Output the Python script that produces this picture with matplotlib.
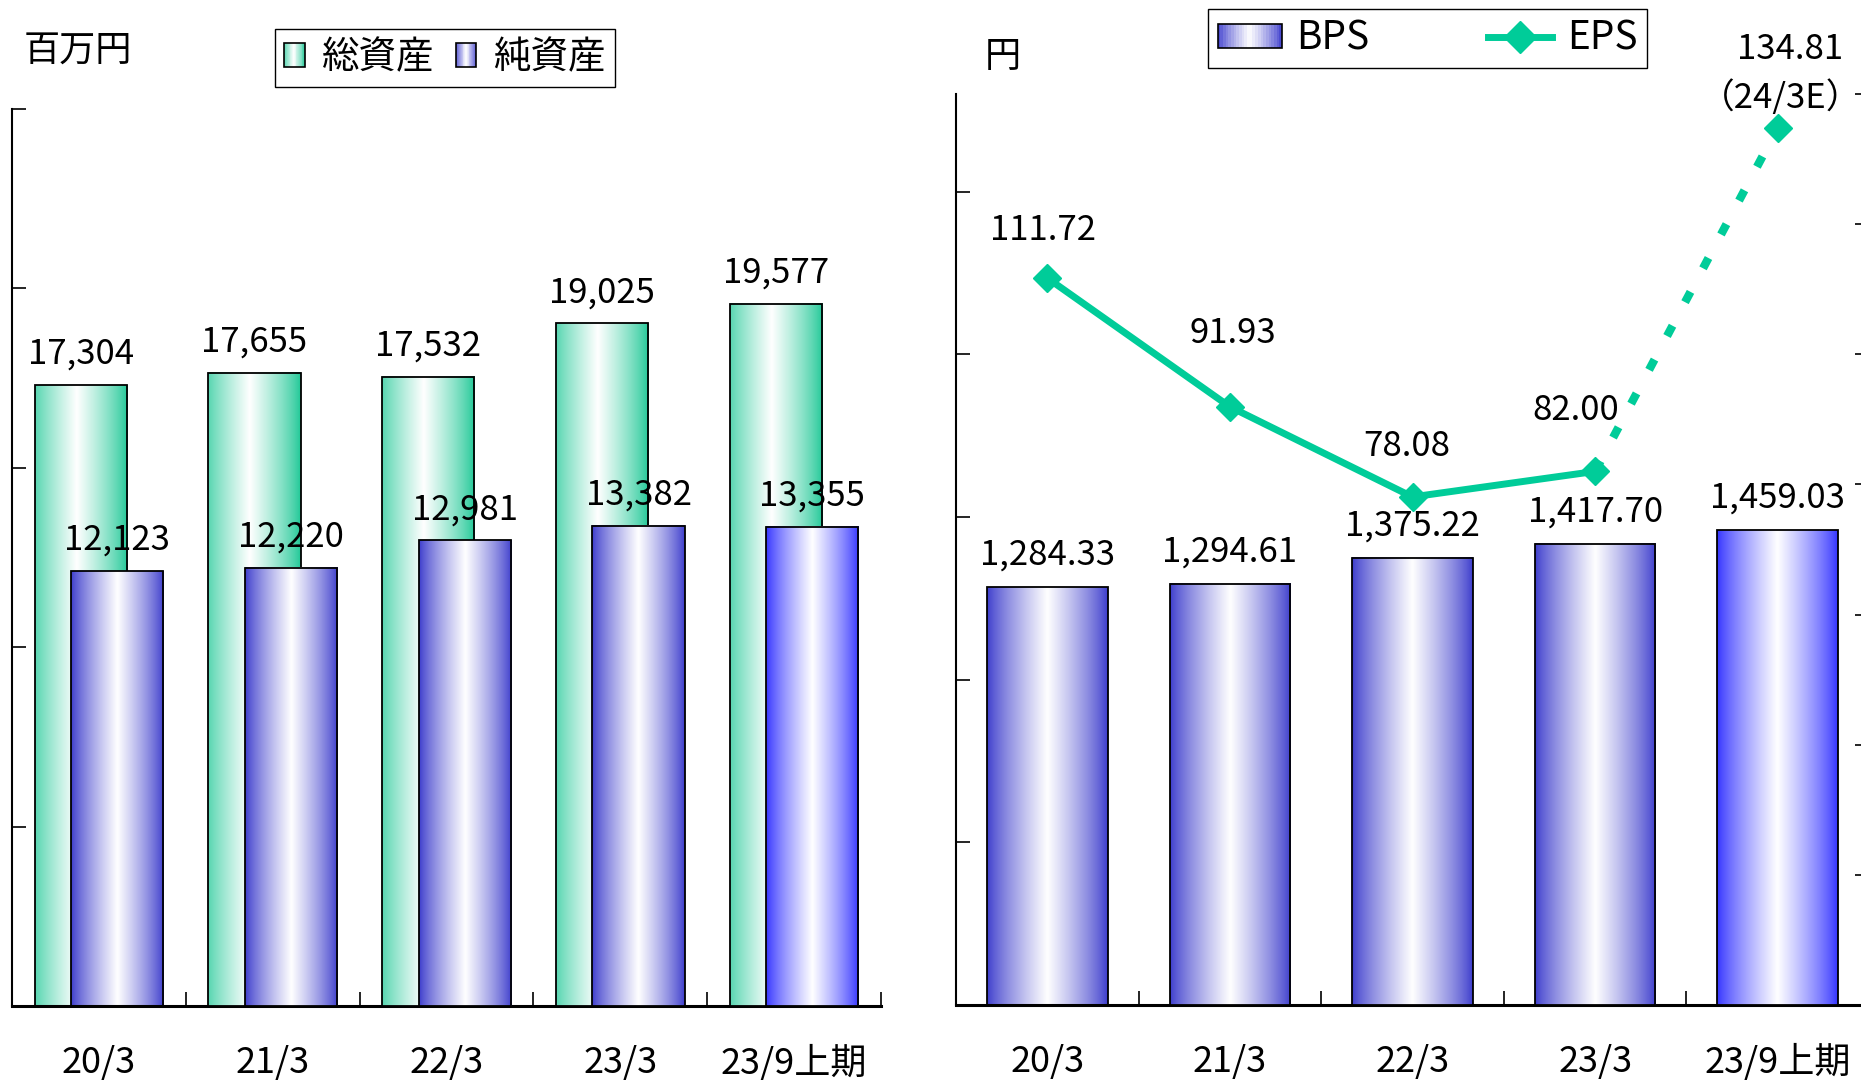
import numpy as np
import matplotlib
matplotlib.use('Agg')
import matplotlib.pyplot as plt
from matplotlib.patches import Rectangle
from matplotlib.lines import Line2D
from matplotlib.legend_handler import HandlerBase
from matplotlib.colors import to_rgb

plt.rcParams['font.family'] = ['Noto Sans CJK JP', 'DejaVu Sans']

# データ
categories = ['20/3', '21/3', '22/3', '23/3', '23/9上期']
total_assets = [17304, 17655, 17532, 19025, 19577]
net_assets = [12123, 12220, 12981, 13382, 13355]
bps = [1284.33, 1294.61, 1375.22, 1417.70, 1459.03]
eps = [111.72, 91.93, 78.08, 82.00]
eps_forecast = 134.81
eps_forecast_label = '（24/3E）'

GREEN = '#1FC896'
BLUE = '#3C3CCC'
BLUE_LAST = '#3333FF'
EPS_COLOR = '#00CC99'
FS = 25


def shade(col, t, peak=0.5):
    c = np.array(to_rgb(col))
    w = np.clip(1 - np.abs(t - peak) / max(peak, 1 - peak), 0, 1) ** 0.8
    return c * (1 - w[..., None]) + w[..., None]


def grad_bar(ax, x, h, width, col, z, peak=0.5):
    t = np.linspace(0, 1, 128)
    img = shade(col, t, peak)[None, :, :]
    ax.imshow(img, extent=(x - width / 2, x + width / 2, 0, h), aspect='auto',
              interpolation='bilinear', zorder=z)
    ax.bar(x, h, width, fill=False, edgecolor='black', linewidth=1.3, zorder=z + 0.1)


class GradHandler(HandlerBase):
    def __init__(self, col, peak=0.5):
        super().__init__()
        self.col = col
        self.peak = peak

    def create_artists(self, legend, orig_handle, xdescent, ydescent, width, height, fontsize, trans):
        n = 24
        arts = []
        for i in range(n):
            t = np.array([(i + 0.5) / n])
            c = shade(self.col, t, self.peak)[0]
            arts.append(Rectangle((-xdescent + width * i / n, -ydescent), width / n * 1.05, height,
                                  facecolor=c, edgecolor='none', transform=trans))
        arts.append(Rectangle((-xdescent, -ydescent), width, height, fill=False,
                              edgecolor='black', linewidth=1.2, transform=trans))
        return arts


def style_axes(ax):
    for s in ['top', 'right']:
        ax.spines[s].set_visible(False)
    ax.spines['left'].set_linewidth(1.5)
    ax.spines['bottom'].set_linewidth(2.2)
    ax.set_xlim(-0.5, len(categories) - 0.5)
    ax.set_xticks(np.arange(len(categories)))
    ax.set_xticklabels(categories, fontsize=26)
    ax.tick_params(axis='x', which='major', length=0, pad=28)
    ax.set_xticks(np.arange(len(categories)) + 0.5, minor=True)
    ax.tick_params(axis='x', which='minor', direction='in', length=10, width=1.2)
    ax.tick_params(axis='y', direction='in', length=10, width=1.2, labelleft=False)


fig = plt.figure(figsize=(18.61, 10.80), dpi=100)
W, H = 1861, 1080

# 左：総資産・純資産
ax1 = fig.add_axes([12 / W, (H - 1006) / H, 869 / W, 897 / H])
x = np.arange(len(categories))
bw = 0.53
off = 0.105
for i in range(len(categories)):
    grad_bar(ax1, x[i] - off, total_assets[i], bw, GREEN, 2 + i, peak=0.45)
    bcol = BLUE_LAST if i == len(categories) - 1 else BLUE
    grad_bar(ax1, x[i] + off, net_assets[i], bw, bcol, 2.5 + i)
    ax1.annotate(f'{total_assets[i]:,}', (x[i] - off, total_assets[i]), xytext=(0, 22),
                 textcoords='offset points', ha='center', va='center', fontsize=FS, zorder=20)
    ax1.annotate(f'{net_assets[i]:,}', (x[i] + off, net_assets[i]), xytext=(0, 22),
                 textcoords='offset points', ha='center', va='center', fontsize=FS, zorder=20)
style_axes(ax1)
ax1.set_ylim(0, 25000)
ax1.set_yticks(np.arange(0, 25001, 5000))

fig.text(24 / W, 1 - 51 / H, '百万円', fontsize=26, va='center', ha='left')
h_total = Rectangle((0, 0), 1, 1)
h_net = Rectangle((0, 0), 1, 1)
fig.legend([h_total, h_net], ['総資産', '純資産'], loc='upper left',
           bbox_to_anchor=(275 / W, 1 - 83 / H, 340 / W, 54 / H), mode='expand',
           ncol=2, fontsize=27, frameon=True,
           fancybox=False, edgecolor='black', framealpha=1, borderpad=0.25,
           handlelength=0.55, handleheight=0.6, handletextpad=0.45, columnspacing=0.8,
           borderaxespad=0,
           handler_map={h_total: GradHandler(GREEN, 0.45), h_net: GradHandler(BLUE)})

# 右：BPS・EPS
ax2 = fig.add_axes([956 / W, (H - 1005) / H, 913 / W, 911 / H])
bw2 = 0.66
for i in range(len(categories)):
    bcol = BLUE_LAST if i == len(categories) - 1 else BLUE
    grad_bar(ax2, x[i], bps[i], bw2, bcol, 2 + i)
    ax2.annotate(f'{bps[i]:,.2f}', (x[i], bps[i]), xytext=(0, 23),
                 textcoords='offset points', ha='center', va='center', fontsize=FS, zorder=20)
style_axes(ax2)
ax2.set_ylim(0, 2800)
ax2.set_yticks(np.arange(0, 2501, 500))

ax3 = ax2.twinx()
ax3.set_ylim(0, 140)
ax3.set_yticks(np.arange(0, 141, 20))
ax3.tick_params(axis='y', direction='in', length=10, width=1.2, labelright=False)
for s in ['top', 'left', 'bottom']:
    ax3.spines[s].set_visible(False)
ax3.spines['right'].set_linewidth(1.5)

n = len(eps)
ax3.plot([x[n - 1], x[n]], [eps[-1], eps_forecast], color=EPS_COLOR, linewidth=6,
         linestyle=(0, (1.4, 3.2)), solid_capstyle='butt', dash_capstyle='butt')
ax3.plot(x[:n], eps, color=EPS_COLOR, linewidth=5, marker='D', markersize=14)
ax3.plot([x[n]], [eps_forecast], color=EPS_COLOR, marker='D', markersize=14, linestyle='none')

eps_offsets = [(-3, 34), (2, 53), (-4, 36), (-14, 44)]
for i in range(n):
    ax3.annotate(f'{eps[i]:.2f}', (x[i], eps[i]), xytext=eps_offsets[i],
                 textcoords='offset points', ha='center', va='center', fontsize=FS)
ax3.annotate(f'{eps_forecast:.2f}', (x[n], eps_forecast), xytext=(9, 56),
             textcoords='offset points', ha='center', va='center', fontsize=FS,
             annotation_clip=False)
ax3.annotate(eps_forecast_label, (x[n], eps_forecast), xytext=(2, 21),
             textcoords='offset points', ha='center', va='center', fontsize=FS,
             annotation_clip=False)

fig.text(985 / W, 1 - 57 / H, '円', fontsize=26, va='center', ha='left')
h_bps = Rectangle((0, 0), 1, 1)
h_eps = Line2D([], [], color=EPS_COLOR, linewidth=5, marker='D', markersize=16)
fig.legend([h_bps, h_eps], ['BPS', 'EPS'], loc='upper left',
           bbox_to_anchor=(1208 / W, 1 - 69 / H, 439 / W, 60 / H), mode='expand',
           ncol=2, fontsize=28, frameon=True,
           fancybox=False, edgecolor='black', framealpha=1, borderpad=0.25,
           handlelength=1.65, handleheight=0.55, handletextpad=0.37, columnspacing=1.4,
           borderaxespad=0,
           handler_map={h_bps: GradHandler(BLUE)})

fig.savefig('out.png', dpi=100)
